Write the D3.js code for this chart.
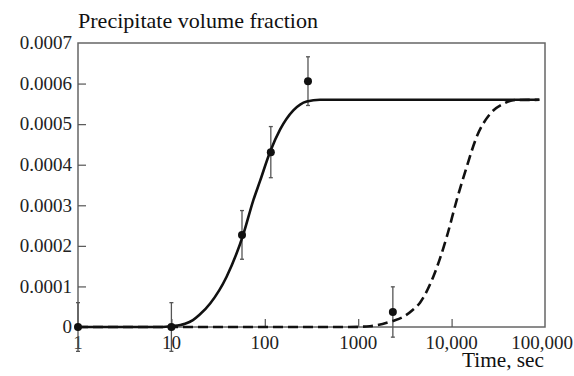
<!DOCTYPE html>
<html>
<head>
<meta charset="utf-8">
<script src="https://cdn.jsdelivr.net/npm/d3@7"></script>
<style>
  body { margin: 0; background: #fff; }
  svg text { font-family: "Liberation Serif", "Times New Roman", serif; fill: #222; }
</style>
</head>
<body>
<div id="chart"></div>
<script>
// curve (time in sec, volume fraction)
const solidT = [1, 8, 10, 14, 17, 20, 26, 39, 59, 75, 89, 114, 146, 202, 281, 390, 87000];
const solidV = [0, 0, 0.000002, 0.000008, 0.000017, 0.00003, 0.000058, 0.000124, 0.000229,
  0.000311, 0.00036, 0.000432, 0.000487, 0.000534, 0.000556, 0.00056, 0.00056];

const dashT = [1, 800, 1337, 2350, 3040, 3830, 4590, 6370, 8870, 11350, 14520, 18580, 25780, 35800, 45800, 87000];
const dashV = [0, 0, 0.000002, 0.000015, 0.000025, 0.000042, 0.00006, 0.000124, 0.000222,
  0.000313, 0.000395, 0.000469, 0.000525, 0.00055, 0.000559, 0.00056];

// measured points with error bars
const ptT = [1, 10, 57, 116, 290, 2350];
const ptV = [0, 0, 0.000227, 0.000431, 0.000606, 0.000037];
const ptErr = [0.00006, 0.00006, 0.00006, 0.000063, 0.00006, 0.000062];

const xTicks = [1, 10, 100, 1000, 10000, 100000];
const xTickLabels = ['1', '10', '100', '1000', '10,000', '100,000'];
const yTicks = [0, 0.0001, 0.0002, 0.0003, 0.0004, 0.0005, 0.0006, 0.0007];
const yTickLabels = ['0', '0.0001', '0.0002', '0.0003', '0.0004', '0.0005', '0.0006', '0.0007'];

const width = 574, height = 376;
const margin = { top: 43, right: 29, bottom: 49, left: 78 };

const svg = d3.select('#chart').append('svg')
  .attr('width', width)
  .attr('height', height);

const x = d3.scaleLog().domain([1, 100000]).range([margin.left, width - margin.right]);
const y = d3.scaleLinear().domain([0, 0.0007]).range([height - margin.bottom, margin.top]);

// frame
svg.append('rect')
  .attr('x', x(1)).attr('y', y(0.0007))
  .attr('width', x(100000) - x(1)).attr('height', y(0) - y(0.0007))
  .attr('fill', 'none').attr('stroke', '#666').attr('stroke-width', 1.5);

// inward ticks
const xAxis = d3.axisBottom(x).tickValues(xTicks.slice(1, -1)).tickSize(-8).tickFormat('');
svg.append('g').attr('transform', `translate(0,${y(0)})`).call(xAxis)
  .call(g => g.select('.domain').remove())
  .call(g => g.selectAll('line').attr('stroke', '#555').attr('stroke-width', 1.2));
const yAxis = d3.axisLeft(y).tickValues(yTicks.slice(1, -1)).tickSize(-8).tickFormat('');
svg.append('g').attr('transform', `translate(${x(1)},0)`).call(yAxis)
  .call(g => g.select('.domain').remove())
  .call(g => g.selectAll('line').attr('stroke', '#555').attr('stroke-width', 1.2));

// tick labels (last one pulled in so it stays on the page)
svg.append('g').selectAll('text').data(xTicks).join('text')
  .attr('x', (d, i) => i === xTicks.length - 1 ? width - 1 : x(d)).attr('y', 349)
  .attr('text-anchor', (d, i) => i === xTicks.length - 1 ? 'end' : 'middle')
  .attr('font-size', 19)
  .text((d, i) => xTickLabels[i]);
svg.append('g').selectAll('text').data(yTicks).join('text')
  .attr('x', 72).attr('y', d => y(d)).attr('dy', '0.33em')
  .attr('text-anchor', 'end').attr('font-size', 19)
  .text((d, i) => yTickLabels[i]);

svg.append('text').attr('x', 78).attr('y', 28).attr('font-size', 21)
  .attr('textLength', 240).attr('lengthAdjust', 'spacingAndGlyphs')
  .style('fill', '#111')
  .text('Precipitate volume fraction');
svg.append('text').attr('x', 462).attr('y', 367).attr('font-size', 20)
  .attr('textLength', 82).attr('lengthAdjust', 'spacingAndGlyphs')
  .style('fill', '#111')
  .text('Time, sec');

// error bars
const err = svg.append('g').attr('stroke', '#555').attr('stroke-width', 1.3);
ptT.forEach((t, i) => {
  const cx = x(t), y0 = y(ptV[i] - ptErr[i]), y1 = y(ptV[i] + ptErr[i]);
  err.append('line').attr('x1', cx).attr('x2', cx).attr('y1', y0).attr('y2', y1);
  err.append('line').attr('x1', cx - 2).attr('x2', cx + 2).attr('y1', y0).attr('y2', y0);
  err.append('line').attr('x1', cx - 2).attr('x2', cx + 2).attr('y1', y1).attr('y2', y1);
});

const line = d3.line().x(d => x(d[0])).y(d => y(d[1])).curve(d3.curveMonotoneX);

svg.append('path')
  .datum(dashT.map((t, i) => [t, dashV[i]]))
  .attr('d', line).attr('fill', 'none')
  .attr('stroke', '#111').attr('stroke-width', 2.6)
  .attr('stroke-dasharray', '10,5');

svg.append('path')
  .datum(solidT.map((t, i) => [t, solidV[i]]))
  .attr('d', line).attr('fill', 'none')
  .attr('stroke', '#111').attr('stroke-width', 2.6);

svg.append('g').selectAll('circle').data(ptT).join('circle')
  .attr('cx', d => x(d)).attr('cy', (d, i) => y(ptV[i]))
  .attr('r', 4).attr('fill', '#111');
</script>
</body>
</html>
